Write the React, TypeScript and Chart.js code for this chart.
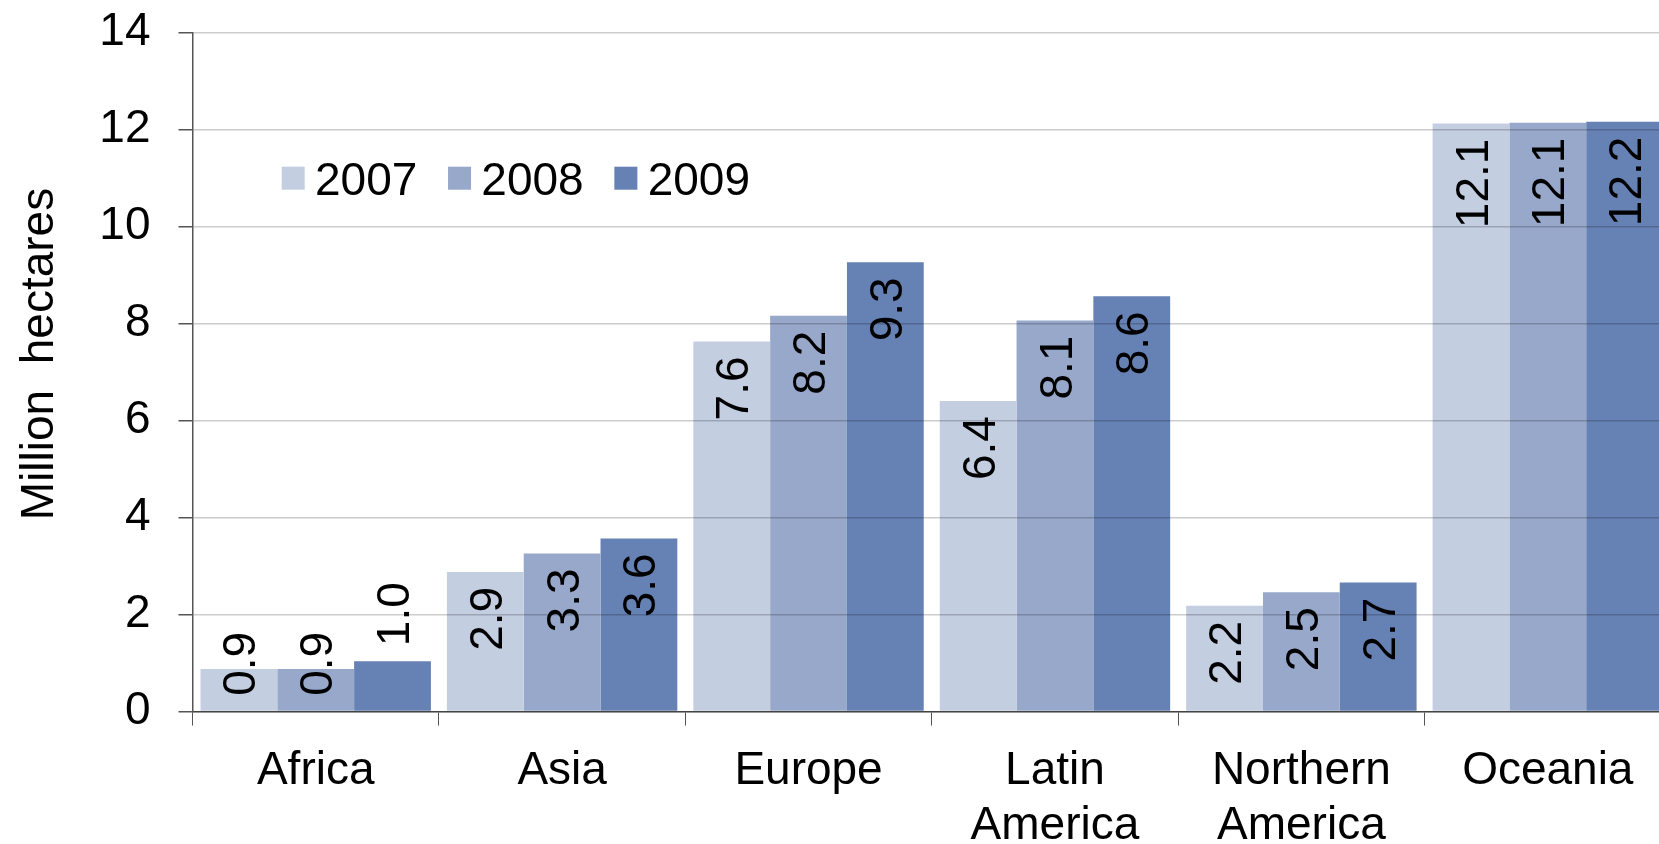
import React, { useEffect, useRef } from 'react';
import { Chart, registerables } from 'chart.js';

Chart.register(...registerables);

// ---- data ----
const categories: (string | string[])[] = [
  'Africa',
  'Asia',
  'Europe',
  ['Latin', 'America'],
  ['Northern', 'America'],
  'Oceania',
];
const seriesLabels = ['2007', '2008', '2009'];
const values2007 = [0.88, 2.88, 7.63, 6.4, 2.18, 12.12];
const values2008 = [0.88, 3.26, 8.16, 8.06, 2.46, 12.14];
const values2009 = [1.04, 3.57, 9.26, 8.56, 2.66, 12.16];
const yMin = 0;
const yMax = 14;
const yStep = 2;
const yTitle = 'Million  hectares';

// ---- styles ----
const FONT = '"Liberation Sans", Arial, Helvetica, sans-serif';
const seriesColors = ['#C4CEE1', '#97A8CB', '#6681B3'];
const shortBarAnchor = ['base', 'base', 'outside'];
const LABEL_FONT = 46;
const LABEL_PAD = 15;

const CANVAS_W = 1671;
const CANVAS_H = 844;
const PLOT_LEFT = 192.5;
const PLOT_TOP = 32.4;
const PLOT_BOTTOM = 711.6;

const overlayPlugin = {
  id: 'overlay',
  afterDraw(chart: any) {
    const ctx: CanvasRenderingContext2D = chart.ctx;
    ctx.save();
    // data labels
    ctx.font = `${LABEL_FONT}px ${FONT}`;
    ctx.fillStyle = '#000';
    ctx.textBaseline = 'alphabetic';
    chart.data.datasets.forEach((ds: any, di: number) => {
      const meta = chart.getDatasetMeta(di);
      meta.data.forEach((bar: any, i: number) => {
        const v = ds.data[i] as number;
        const text = v.toFixed(1);
        const w = ctx.measureText(text).width;
        const { x, y, base } = bar.getProps(['x', 'y', 'base'], true);
        const h = base - y;
        let anchor: number;
        let align: CanvasTextAlign;
        if (h >= w + 2 * LABEL_PAD) {
          anchor = y + LABEL_PAD;
          align = 'right';
        } else if (shortBarAnchor[di] === 'base') {
          anchor = base - LABEL_PAD;
          align = 'left';
        } else {
          anchor = y - LABEL_PAD;
          align = 'left';
        }
        ctx.save();
        ctx.translate(x, anchor);
        ctx.rotate(-Math.PI / 2);
        ctx.textAlign = align;
        ctx.fillText(text, 0, LABEL_FONT * 0.36);
        ctx.restore();
      });
    });
    // legend
    const ca = chart.chartArea;
    const sq = 23;
    let lx = ca.left + 89.2;
    const ly = ca.top + 134.3;
    ctx.font = `46px ${FONT}`;
    ctx.textAlign = 'left';
    ctx.textBaseline = 'alphabetic';
    chart.data.datasets.forEach((ds: any) => {
      ctx.fillStyle = ds.backgroundColor;
      ctx.fillRect(lx, ly, sq, sq);
      ctx.fillStyle = '#000';
      const tx = lx + sq + 10.3;
      ctx.fillText(ds.label, tx, ly + sq / 2 + 46 * 0.358);
      lx = tx + ctx.measureText(ds.label).width + 30.7;
    });
    // y axis title
    ctx.save();
    ctx.font = `46px ${FONT}`;
    ctx.fillStyle = '#000';
    ctx.textAlign = 'center';
    ctx.textBaseline = 'alphabetic';
    ctx.translate(37, ca.top + 321.6);
    ctx.rotate(-Math.PI / 2);
    ctx.fillText(yTitle, 0, 46 * 0.358);
    ctx.restore();
    ctx.restore();
  },
};

function App() {
  const ref = useRef<HTMLCanvasElement | null>(null);
  useEffect(() => {
    if (!ref.current) return;
    const seriesValues = [values2007, values2008, values2009];
    const chart = new Chart(ref.current, {
      type: 'bar',
      data: {
        labels: categories,
        datasets: seriesLabels.map((label, i) => ({
          label,
          data: seriesValues[i],
          backgroundColor: seriesColors[i],
          borderWidth: 0,
          barPercentage: 1,
          categoryPercentage: 0.935,
        })),
      },
      options: {
        responsive: false,
        animation: false,
        events: [],
        layout: { padding: { left: 0, right: 0, top: PLOT_TOP, bottom: 0 } },
        plugins: {
          legend: { display: false },
          tooltip: { enabled: false },
        },
        scales: {
          x: {
            offset: true,
            grid: {
              display: true,
              drawOnChartArea: false,
              drawTicks: true,
              tickLength: 14,
              tickColor: '#555',
              offset: true,
            },
            border: { display: true, color: '#555', width: 1.5 },
            ticks: {
              color: '#000',
              font: { family: FONT, size: 46, lineHeight: 1.2 },
              padding: 18,
              maxRotation: 0,
              autoSkip: false,
            },
            afterFit: (s: any) => {
              s.height = CANVAS_H - PLOT_BOTTOM;
            },
          },
          y: {
            min: yMin,
            max: yMax,
            grid: {
              color: 'rgba(0,0,0,0.2)',
              lineWidth: 1.5,
              tickLength: 14,
              tickColor: '#555',
              z: 1,
            },
            border: { display: true, color: '#555', width: 1.5, z: 2 },
            ticks: {
              stepSize: yStep,
              color: '#000',
              font: { family: FONT, size: 46 },
              padding: 28,
            },
            title: { display: false },
            afterFit: (s: any) => {
              s.width = PLOT_LEFT;
              s.paddingTop = 0;
              s.paddingBottom = 0;
            },
          },
        },
      },
      plugins: [overlayPlugin],
    });
    return () => chart.destroy();
  }, []);

  return (
    <div
      style={{
        position: 'fixed',
        left: 0,
        top: 0,
        width: 1659,
        height: 844,
        overflow: 'hidden',
        background: '#fff',
      }}
    >
      <canvas ref={ref} width={CANVAS_W} height={CANVAS_H} style={{ display: 'block' }} />
    </div>
  );
}

export default App;
